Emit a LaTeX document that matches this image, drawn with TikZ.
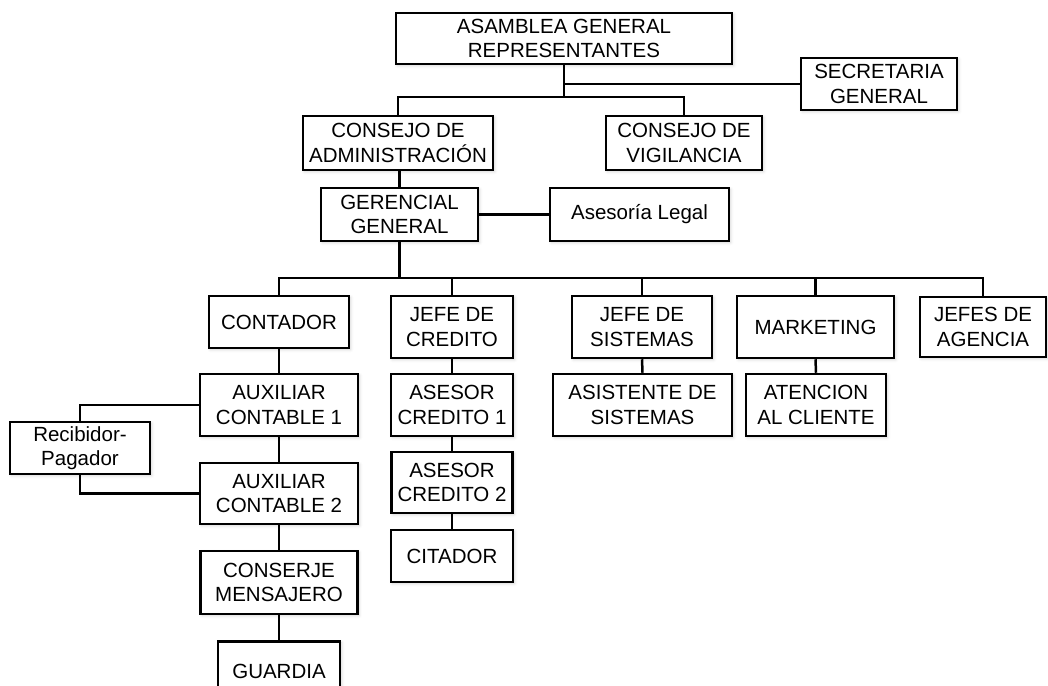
\documentclass[tikz,border=0pt]{standalone}
\usepackage{fontspec}
\setmainfont{Liberation Sans}
\usetikzlibrary{shadows.blur}
\begin{document}
\begin{tikzpicture}[x=1pt,y=-1pt,
  box/.style={draw=black,line width=2.5pt,fill=white,align=center,inner sep=0pt,
    font=\fontsize{20.5}{24.5}\selectfont,
    blur shadow={shadow xshift=1.5pt,shadow yshift=-1.5pt,shadow blur radius=3pt,shadow opacity=18}},
  link/.style={draw=black,line width=2.5pt}]
\useasboundingbox (0,0) rectangle (1048,685);
\clip (0,0) rectangle (1048,685);

% top levels
\node[box,minimum width=336,minimum height=51] (asam) at (564,38.5) {ASAMBLEA GENERAL\\REPRESENTANTES};
\node[box,minimum width=156,minimum height=52] (secr) at (879,84) {SECRETARIA\\GENERAL};
\node[box,minimum width=190,minimum height=54] (cadm) at (398,143) {CONSEJO DE\\ADMINISTRACIÓN};
\node[box,minimum width=156,minimum height=54] (cvig) at (684,143) {CONSEJO DE\\VIGILANCIA};
\node[box,minimum width=157,minimum height=53] (ger) at (399.5,214.5) {GERENCIAL\\GENERAL};
\node[box,minimum width=179,minimum height=53] (ases) at (639.5,214.5) {Asesoría Legal};

% departments
\node[box,minimum width=140,minimum height=52] (cont) at (279,322) {CONTADOR};
\node[box,minimum width=122,minimum height=62] (jcred) at (452,327) {JEFE DE\\CREDITO};
\node[box,minimum width=140,minimum height=62] (jsis) at (642,327) {JEFE DE\\SISTEMAS};
\node[box,minimum width=157,minimum height=62] (mkt) at (815.5,327) {MARKETING};
\node[box,minimum width=126,minimum height=60] (jag) at (983,327) {JEFES DE\\AGENCIA};

% staff
\node[box,minimum width=158,minimum height=62] (aux1) at (279,405) {AUXILIAR\\CONTABLE 1};
\node[box,minimum width=122,minimum height=62] (ac1) at (452,405) {ASESOR\\CREDITO 1};
\node[box,minimum width=179,minimum height=62] (asis) at (642.5,405) {ASISTENTE DE\\SISTEMAS};
\node[box,minimum width=140,minimum height=62] (aten) at (816,405) {ATENCION\\AL CLIENTE};
\node[box,minimum width=140,minimum height=52] (rec) at (80,448) {Recibidor-\\Pagador};
\node[box,minimum width=158,minimum height=61] (aux2) at (279,493.5) {AUXILIAR\\CONTABLE 2};
\node[box,minimum width=121,minimum height=61] (ac2) at (452,482.5) {ASESOR\\CREDITO 2};
\node[box,minimum width=122,minimum height=52] (cit) at (452,556) {CITADOR};
\node[box,minimum width=157,minimum height=63] (cons) at (279,582.5) {CONSERJE\\MENSAJERO};
\node[box,minimum width=122,minimum height=60,anchor=north] (guard) at (279,640) {GUARDIA};

% junctions
\coordinate (j1) at (asam.south |- 0,97);
\coordinate (j2) at (ger.south |- 0,278);

% connectors
\draw[link] (asam.south) -- (j1);
\draw[link] (asam.south |- secr.west) -- (secr.west);
\draw[link] (cadm.north) |- (j1) -| (cvig.north);
\draw[link] (ger.north) -- (ger.north |- cadm.south);
\draw[link] (ger.east) -- (ases.west);
\draw[link] (ger.south) -- (j2);
\draw[link] (cont.north) |- (j2) -| (jag.north);
\draw[link] (jcred.north) -- (jcred.north |- j2);
\draw[link] (jsis.north) -- (jsis.north |- j2);
\draw[link] (mkt.north) -- (mkt.north |- j2);

\draw[link] (cont.south) -- (aux1.north);
\draw[link] (aux1.south) -- (aux2.north);
\draw[link] (aux2.south) -- (cons.north);
\draw[link] (cons.south) -- (guard.north);
\draw[link] (aux1.west) -| (rec.north);
\draw[link] (rec.south) |- (aux2.west);

\draw[link] (jcred.south) -- (ac1.north);
\draw[link] (ac1.south) -- (ac2.north);
\draw[link] (ac2.south) -- (cit.north);
\draw[link] (jsis.south) -- (asis.north);
\draw[link] (mkt.south) -- (aten.north);
\end{tikzpicture}
\end{document}
